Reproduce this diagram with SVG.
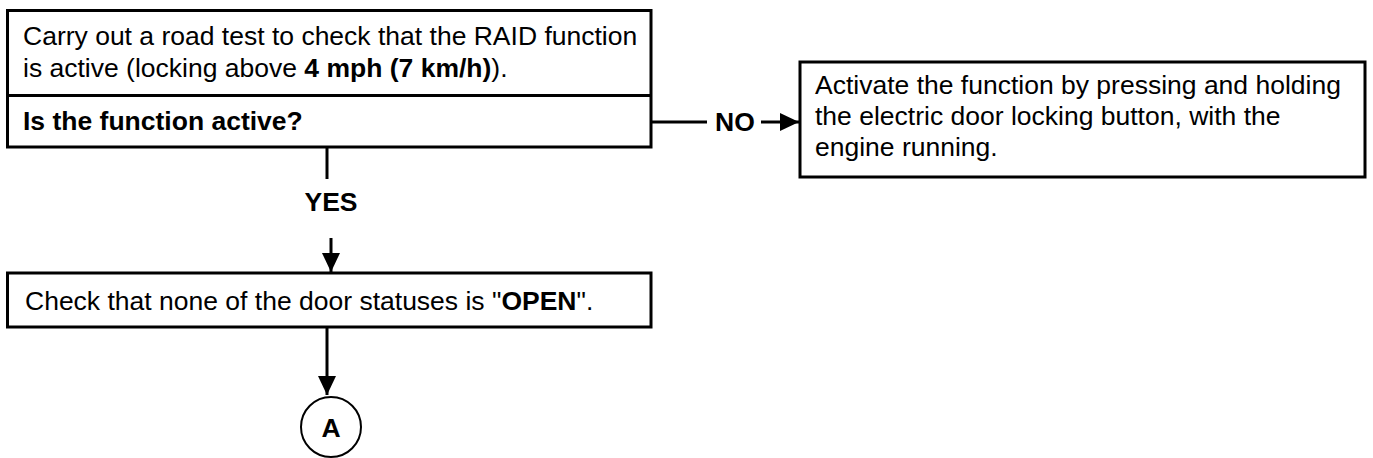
<svg xmlns="http://www.w3.org/2000/svg" width="1373" height="458" viewBox="0 0 1373 458">
<style>
  .box { fill: #fff; stroke: #000; stroke-width: 3; }
  .t { font-family: "Liberation Sans", Arial, sans-serif; font-size: 26.5px; fill: #000; }
  .b { font-weight: bold; }
  .ln { stroke: #000; stroke-width: 3; fill: none; }
</style>
<defs>
  <marker id="ah" markerUnits="userSpaceOnUse" markerWidth="20" markerHeight="20" refX="19" refY="10" orient="auto">
    <path d="M0,1 L19,10 L0,19 Z" fill="#000"/>
  </marker>
</defs>
<g id="connectors">
  <line class="ln" x1="651" y1="122" x2="707" y2="122"/>
  <line class="ln" x1="761" y1="122" x2="799" y2="122" marker-end="url(#ah)"/>
  <line class="ln" x1="327" y1="147" x2="327" y2="179"/>
  <line class="ln" x1="331" y1="238" x2="331" y2="272" marker-end="url(#ah)"/>
  <line class="ln" x1="327" y1="327" x2="327" y2="395" marker-end="url(#ah)"/>
  <text class="t b" x="715" y="131">NO</text>
  <text class="t b" x="331" y="211" text-anchor="middle">YES</text>
</g>
<g id="node-roadtest">
  <rect class="box" x="7.5" y="10.5" width="643.5" height="136.5"/>
  <line class="ln" x1="7.5" y1="95.5" x2="651" y2="95.5"/>
  <text class="t" x="23" y="45">Carry out a road test to check that the RAID function</text>
  <text class="t" x="23" y="77">is active (locking above <tspan class="b">4 mph (7 km/h)</tspan>).</text>
  <text class="t b" x="23" y="130">Is the function active?</text>
</g>
<g id="node-activate">
  <rect class="box" x="800" y="62" width="565" height="115"/>
  <text class="t" x="815" y="94">Activate the function by pressing and holding</text>
  <text class="t" x="815" y="125">the electric door locking button, with the</text>
  <text class="t" x="815" y="156">engine running.</text>
</g>
<g id="node-check">
  <rect class="box" x="7.5" y="273" width="643.5" height="54"/>
  <text class="t" x="25" y="310">Check that none of the door statuses is "<tspan class="b">OPEN</tspan>".</text>
</g>
<g id="node-A">
  <circle cx="331" cy="427" r="30" fill="#fff" stroke="#000" stroke-width="2"/>
  <text class="t b" x="331" y="437" text-anchor="middle">A</text>
</g>
</svg>
